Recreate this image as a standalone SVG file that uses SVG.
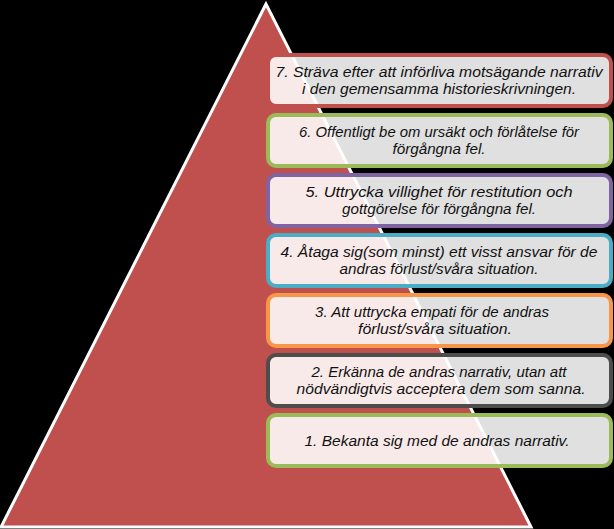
<svg xmlns="http://www.w3.org/2000/svg" width="614" height="529" viewBox="0 0 614 529">
<style>
.bx{fill:#ffffff;fill-opacity:0.88;stroke-width:4}
.t{font-family:"Liberation Sans",Arial,sans-serif;font-style:italic;font-size:15px;fill:#111;text-anchor:middle}
</style>
<rect x="0" y="0" width="614" height="529" fill="#000"/>
<g id="pyramid">
<polygon points="266,4 1,527 531,527" fill="#c0504d" stroke="#fff" stroke-width="3" stroke-linejoin="miter"/>
</g>
<g id="connectors"></g>
<g id="step7">
<rect class="bx" x="268" y="55" width="343" height="51" rx="8" stroke="#c0504d"/>
<text class="t" x="439" y="77" textLength="327" lengthAdjust="spacingAndGlyphs">7. Sträva efter att införliva motsägande narrativ</text>
<text class="t" x="439" y="94" textLength="274" lengthAdjust="spacingAndGlyphs">i den gemensamma historieskrivningen.</text>
</g>
<g id="step6">
<rect class="bx" x="268" y="115" width="343" height="51" rx="8" stroke="#9bbb59"/>
<text class="t" x="439" y="137" textLength="280" lengthAdjust="spacingAndGlyphs">6. Offentligt be om ursäkt och förlåtelse för</text>
<text class="t" x="439" y="154" textLength="93" lengthAdjust="spacingAndGlyphs">förgångna fel.</text>
</g>
<g id="step5">
<rect class="bx" x="268" y="175" width="343" height="51" rx="8" stroke="#8064a2"/>
<text class="t" x="439" y="197" textLength="267" lengthAdjust="spacingAndGlyphs">5. Uttrycka villighet för restitution och</text>
<text class="t" x="439" y="214" textLength="194" lengthAdjust="spacingAndGlyphs">gottgörelse för förgångna fel.</text>
</g>
<g id="step4">
<rect class="bx" x="268" y="235" width="343" height="51" rx="8" stroke="#4bacc6"/>
<text class="t" x="439" y="257" textLength="317" lengthAdjust="spacingAndGlyphs">4. Åtaga sig(som minst) ett visst ansvar för de</text>
<text class="t" x="439" y="274" textLength="199" lengthAdjust="spacingAndGlyphs">andras förlust/svåra situation.</text>
</g>
<g id="step3">
<rect class="bx" x="268" y="295" width="343" height="51" rx="8" stroke="#f79646"/>
<text class="t" x="432" y="317" textLength="234" lengthAdjust="spacingAndGlyphs">3. Att uttrycka empati för de andras</text>
<text class="t" x="435" y="334" textLength="154" lengthAdjust="spacingAndGlyphs">förlust/svåra situation.</text>
</g>
<g id="step2">
<rect class="bx" x="268" y="355" width="343" height="51" rx="8" stroke="#4d4d4d"/>
<text class="t" x="439" y="377" textLength="255" lengthAdjust="spacingAndGlyphs">2. Erkänna de andras narrativ, utan att</text>
<text class="t" x="441" y="394" textLength="289" lengthAdjust="spacingAndGlyphs">nödvändigtvis acceptera dem som sanna.</text>
</g>
<g id="step1">
<rect class="bx" x="268" y="415" width="343" height="51" rx="8" stroke="#9bbb59"/>
<text class="t" x="437" y="446" textLength="265" lengthAdjust="spacingAndGlyphs">1. Bekanta sig med de andras narrativ.</text>
</g>
</svg>
